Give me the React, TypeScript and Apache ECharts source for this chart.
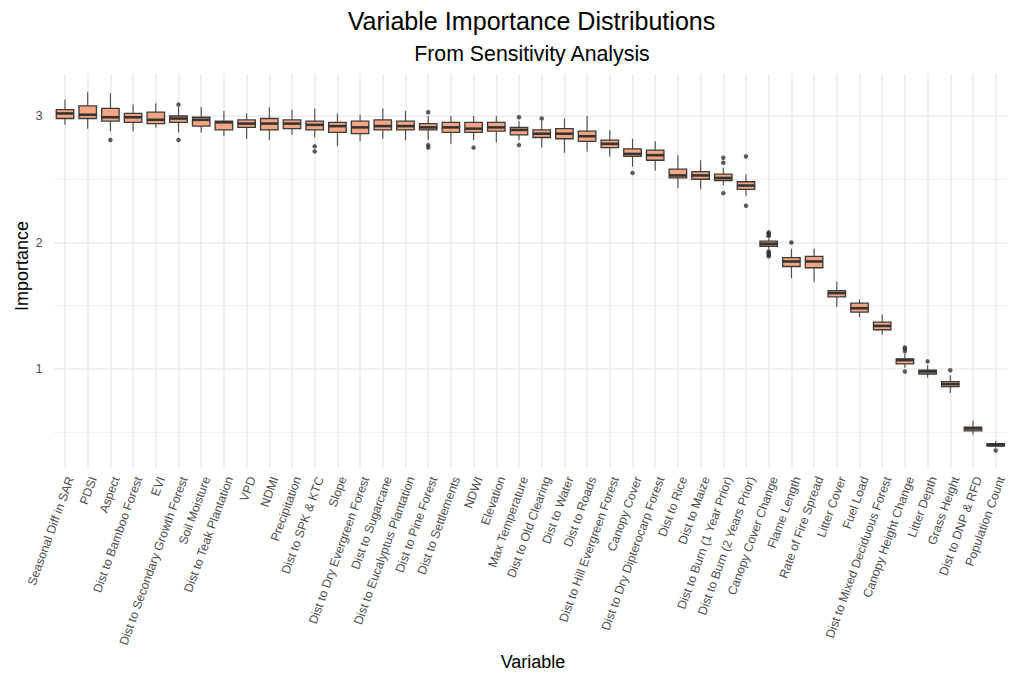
import React, { useEffect, useRef } from "react";
import * as echarts from "echarts";

const categories = [
  "Seasonal Diff in SAR", "PDSI", "Aspect", "Dist to Bamboo Forest", "EVI",
  "Dist to Secondary Growth Forest", "Soil Moisture", "Dist to Teak Plantation", "VPD", "NDMI",
  "Precipitation", "Dist to SPK & KTC", "Slope", "Dist to Dry Evergreen Forest", "Dist to Sugarcane",
  "Dist to Eucalyptus Plantation", "Dist to Pine Forest", "Dist to Settlements", "NDWI", "Elevation",
  "Max Temperature", "Dist to Old Clearing", "Dist to Water", "Dist to Roads", "Dist to Hill Evergreen Forest",
  "Canopy Cover", "Dist to Dry Dipterocarp Forest", "Dist to Rice", "Dist to Maize", "Dist to Burn (1 Year Prior)",
  "Dist to Burn (2 Years Prior)", "Canopy Cover Change", "Flame Length", "Rate of Fire Spread", "Litter Cover",
  "Fuel Load", "Dist to Mixed Deciduous Forest", "Canopy Height Change", "Litter Depth", "Grass Height",
  "Dist to DNP & RFD", "Population Count",
];

const whiskerLow = [
  2.93, 2.90, 2.88, 2.88, 2.91, 2.87, 2.87, 2.84, 2.82, 2.81,
  2.85, 2.83, 2.76, 2.80, 2.82, 2.81, 2.81, 2.78, 2.81, 2.79,
  2.81, 2.75, 2.71, 2.72, 2.68, 2.60, 2.57, 2.43, 2.42, 2.45,
  2.37, 1.95, 1.72, 1.69, 1.49, 1.41, 1.27, 1.01, 0.93, 0.81,
  0.48, 0.38,
];
const q1 = [
  2.98, 2.98, 2.96, 2.95, 2.94, 2.95, 2.92, 2.89, 2.91, 2.89,
  2.90, 2.89, 2.87, 2.86, 2.89, 2.89, 2.89, 2.87, 2.87, 2.88,
  2.85, 2.83, 2.82, 2.80, 2.75, 2.68, 2.65, 2.51, 2.50, 2.49,
  2.42, 1.97, 1.81, 1.80, 1.57, 1.45, 1.31, 1.04, 0.96, 0.86,
  0.51, 0.39,
];
const median = [
  3.02, 3.01, 2.99, 2.99, 2.97, 2.98, 2.97, 2.95, 2.94, 2.94,
  2.94, 2.93, 2.92, 2.91, 2.92, 2.92, 2.91, 2.91, 2.90, 2.91,
  2.89, 2.86, 2.86, 2.84, 2.78, 2.70, 2.69, 2.53, 2.53, 2.51,
  2.45, 1.99, 1.85, 1.85, 1.60, 1.48, 1.34, 1.07, 0.98, 0.88,
  0.53, 0.40,
];
const q3 = [
  3.05, 3.08, 3.06, 3.02, 3.03, 3.00, 2.99, 2.96, 2.97, 2.98,
  2.97, 2.96, 2.95, 2.96, 2.97, 2.96, 2.94, 2.95, 2.95, 2.95,
  2.91, 2.89, 2.90, 2.88, 2.81, 2.74, 2.73, 2.58, 2.56, 2.54,
  2.48, 2.01, 1.88, 1.89, 1.62, 1.52, 1.37, 1.08, 0.99, 0.90,
  0.54, 0.41,
];
const whiskerHigh = [
  3.13, 3.19, 3.18, 3.09, 3.10, 3.07, 3.07, 3.04, 3.02, 3.07,
  3.05, 3.06, 3.02, 3.01, 3.06, 3.04, 3.00, 3.00, 3.00, 3.00,
  2.96, 2.96, 2.98, 3.00, 2.89, 2.82, 2.80, 2.69, 2.65, 2.59,
  2.54, 2.03, 1.95, 1.95, 1.69, 1.55, 1.43, 1.12, 1.03, 0.95,
  0.59, 0.43,
];

// outliers: [variable, value]
const outliers: [string, number][] = [
  ["Aspect", 2.81],
  ["Dist to Secondary Growth Forest", 3.09],
  ["Dist to Secondary Growth Forest", 2.81],
  ["Dist to SPK & KTC", 2.76],
  ["Dist to SPK & KTC", 2.72],
  ["Dist to Pine Forest", 3.03],
  ["Dist to Pine Forest", 2.77],
  ["Dist to Pine Forest", 2.75],
  ["NDWI", 2.75],
  ["Max Temperature", 2.99],
  ["Max Temperature", 2.77],
  ["Dist to Old Clearing", 2.98],
  ["Canopy Cover", 2.55],
  ["Dist to Burn (1 Year Prior)", 2.67],
  ["Dist to Burn (1 Year Prior)", 2.63],
  ["Dist to Burn (1 Year Prior)", 2.39],
  ["Dist to Burn (2 Years Prior)", 2.68],
  ["Dist to Burn (2 Years Prior)", 2.29],
  ["Canopy Cover Change", 2.05],
  ["Canopy Cover Change", 2.06],
  ["Canopy Cover Change", 2.07],
  ["Canopy Cover Change", 2.08],
  ["Canopy Cover Change", 1.93],
  ["Canopy Cover Change", 1.92],
  ["Canopy Cover Change", 1.91],
  ["Canopy Cover Change", 1.90],
  ["Canopy Cover Change", 1.89],
  ["Flame Length", 2.0],
  ["Canopy Height Change", 1.14],
  ["Canopy Height Change", 1.16],
  ["Canopy Height Change", 1.17],
  ["Canopy Height Change", 0.98],
  ["Litter Depth", 1.06],
  ["Grass Height", 0.99],
  ["Population Count", 0.355],
];

const majorY = [1, 2, 3];
const minorY = [0.5, 1.5, 2.5];

const FONT = "'Liberation Sans', Arial, Helvetica, sans-serif";

export default function App() {
  const ref = useRef<HTMLDivElement>(null);

  useEffect(() => {
    if (!ref.current) return;
    const chart = echarts.init(ref.current, undefined, { renderer: "svg" });

    const boxData = categories.map((_, i) => [
      i, whiskerLow[i], q1[i], median[i], q3[i], whiskerHigh[i],
    ]);

    const gridLines: any[] = [
      ...majorY.map((v) => ({ yAxis: v, lineStyle: { width: 1.6 } })),
      ...minorY.map((v) => ({ yAxis: v, lineStyle: { width: 0.8 } })),
      ...categories.map((c) => ({ xAxis: c, lineStyle: { width: 1.6 } })),
    ];

    const option: any = {
      animation: false,
      backgroundColor: "#ffffff",
      textStyle: { fontFamily: FONT },
      grid: { left: 53.65, right: 7.95, top: 74, height: 394, containLabel: false },
      xAxis: {
        type: "category",
        data: categories,
        boundaryGap: true,
        axisLine: { show: false },
        axisTick: { show: false },
        splitLine: { show: false },
        axisLabel: {
          interval: 0,
          rotate: 70,
          margin: 7,
          fontSize: 12.3,
          verticalAlign: "top",
          color: "#4d4d4d",
          fontFamily: FONT,
        },
      },
      yAxis: {
        type: "value",
        min: 0.217,
        max: 3.332,
        splitNumber: 6,
        axisLine: { show: false },
        axisTick: { show: false },
        splitLine: { show: false },
        axisLabel: {
          margin: 11,
          fontSize: 12.8,
          color: "#4d4d4d",
          fontFamily: FONT,
          showMinLabel: false,
          showMaxLabel: false,
          formatter: (v: number) =>
            Math.abs(v - Math.round(v)) < 1e-6 ? String(Math.round(v)) : "",
        },
      },
      graphic: [
        {
          type: "text", x: 531.5, y: 20.5, silent: true,
          style: { text: "Variable Importance Distributions", font: `25.1px ${FONT}`, fill: "#000", align: "center", verticalAlign: "middle" },
        },
        {
          type: "text", x: 532, y: 53.5, silent: true,
          style: { text: "From Sensitivity Analysis", font: `21.3px ${FONT}`, fill: "#000", align: "center", verticalAlign: "middle" },
        },
        {
          type: "text", x: 22, y: 266, rotation: Math.PI / 2, silent: true,
          style: { text: "Importance", font: `18px ${FONT}`, fill: "#000", align: "center", verticalAlign: "middle" },
        },
        {
          type: "text", x: 533, y: 662, silent: true,
          style: { text: "Variable", font: `18px ${FONT}`, fill: "#000", align: "center", verticalAlign: "middle" },
        },
      ],
      series: [
        {
          type: "custom",
          name: "Importance",
          z: 2,
          data: boxData,
          encode: { x: 0, y: [1, 2, 3, 4, 5] },
          renderItem: (params: any, api: any) => {
            const idx = api.value(0);
            const [x, yLo] = api.coord([idx, api.value(1)]);
            const yQ1 = api.coord([idx, api.value(2)])[1];
            const yMed = api.coord([idx, api.value(3)])[1];
            const yQ3 = api.coord([idx, api.value(4)])[1];
            const yHi = api.coord([idx, api.value(5)])[1];
            const w = api.size([1, 0])[0] * 0.77;
            return {
              type: "group",
              children: [
                { type: "line", shape: { x1: x, y1: yHi, x2: x, y2: yQ3 }, style: { stroke: "#4a4a4a", lineWidth: 1.1 } },
                { type: "line", shape: { x1: x, y1: yQ1, x2: x, y2: yLo }, style: { stroke: "#4a4a4a", lineWidth: 1.1 } },
                { type: "rect", shape: { x: x - w / 2, y: yQ3, width: w, height: yQ1 - yQ3 }, style: { fill: "#F4A582", stroke: "#3a3a3a", lineWidth: 1.3 } },
                { type: "line", shape: { x1: x - w / 2, y1: yMed, x2: x + w / 2, y2: yMed }, style: { stroke: "#333333", lineWidth: 2.6 } },
              ],
            };
          },
          markLine: {
            z: 0,
            silent: true,
            symbol: ["none", "none"],
            label: { show: false },
            emphasis: { disabled: true },
            lineStyle: { color: "#ebebeb", type: "solid" },
            data: gridLines,
          },
        },
        {
          type: "scatter",
          name: "Outliers",
          z: 3,
          data: outliers,
          symbol: "circle",
          symbolSize: 4.5,
          itemStyle: { color: "#333333" },
          silent: true,
        },
      ],
    };

    chart.setOption(option);
    return () => chart.dispose();
  }, []);

  return (
    <div
      ref={ref}
      style={{ position: "fixed", left: 0, top: 0, width: "1015px", height: "673px" }}
    />
  );
}
